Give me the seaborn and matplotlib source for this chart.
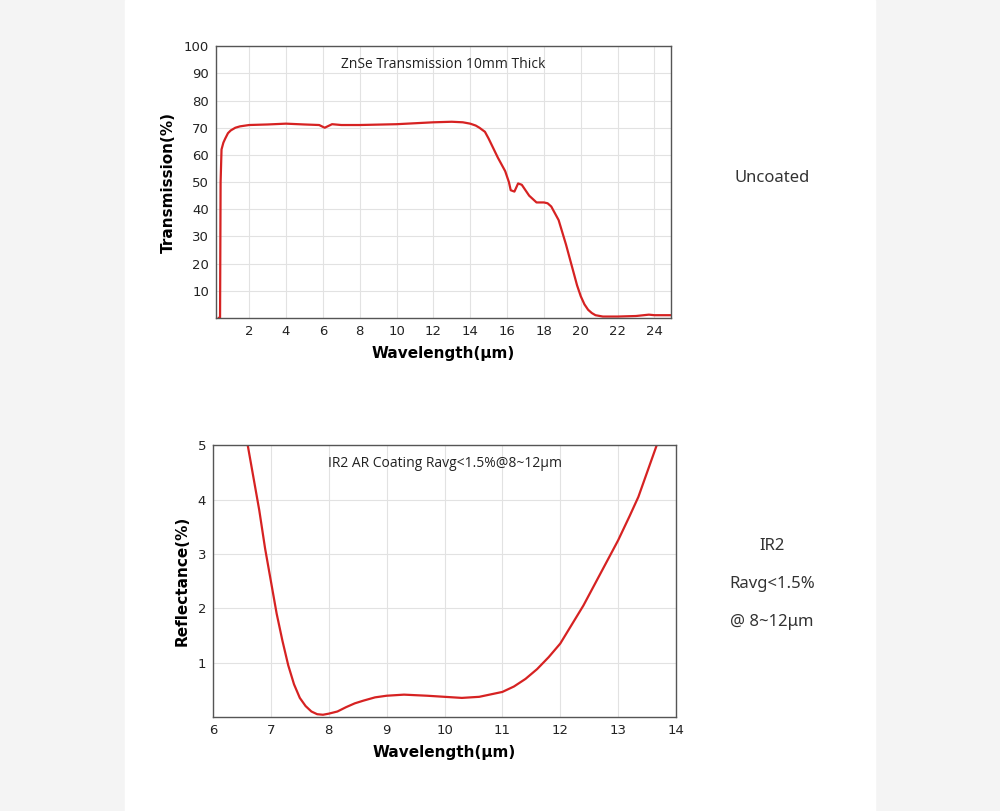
import matplotlib
matplotlib.use("Agg")
import matplotlib.pyplot as plt
import seaborn as sns
import pandas as pd

trans_wl = [0.35, 0.42, 0.45, 0.5, 0.6, 0.7, 0.85, 1.0, 1.25, 1.5, 2, 3, 4, 5, 5.8, 6.1, 6.5, 7, 8, 10, 12, 13,
            13.6, 14, 14.3, 14.5, 14.8, 15, 15.5, 15.9, 16.1, 16.2, 16.4, 16.6, 16.8, 17.0, 17.2, 17.6, 18, 18.2,
            18.4, 18.8, 19.2, 19.6, 19.8, 20, 20.2, 20.4, 20.6, 20.8, 21.2, 22, 23, 23.7, 24, 25]
trans_val = [0, 0, 50, 62, 64.5, 66, 68, 69, 70, 70.5, 71, 71.2, 71.5, 71.2, 71, 70, 71.3, 71, 71, 71.3, 72, 72.2,
             72, 71.5, 70.8, 70, 68.5, 66, 59, 54, 50, 47, 46.5, 49.5, 49, 47, 45, 42.5, 42.5, 42.2,
             41, 36, 27, 17, 12, 8, 5, 3, 1.8, 1, 0.5, 0.5, 0.7, 1.2, 1, 1]
refl_wl = [6.6, 6.7, 6.8, 6.9, 7.0, 7.1, 7.2, 7.3, 7.4, 7.5, 7.6, 7.7, 7.8, 7.9, 8.0, 8.15, 8.3, 8.45, 8.6, 8.8,
           9.0, 9.3, 9.7, 10.0, 10.3, 10.6, 11.0, 11.2, 11.4, 11.6, 11.8, 12.0, 12.2, 12.4, 12.6, 12.8, 13.0,
           13.2, 13.35, 13.5, 13.7]
refl_val = [5.0, 4.4, 3.8, 3.1, 2.5, 1.9, 1.4, 0.95, 0.6, 0.35, 0.2, 0.1, 0.05, 0.04, 0.06, 0.1, 0.18, 0.25, 0.3,
            0.36, 0.39, 0.41, 0.39, 0.37, 0.35, 0.37, 0.46, 0.56, 0.7, 0.88, 1.1, 1.35, 1.7, 2.05, 2.45, 2.85,
            3.25, 3.7, 4.05, 4.5, 5.1]

RED = "#d62222"
fig = plt.figure(figsize=(10, 8.11), dpi=100)
fig.patch.set_facecolor("#f4f4f4")
fig.add_artist(plt.Rectangle((0.125, 0), 0.75, 1, transform=fig.transFigure, color="white", zorder=0))

ax1 = fig.add_axes([0.216, 0.608, 0.455, 0.335])
ax2 = fig.add_axes([0.213, 0.116, 0.463, 0.335])

sns.lineplot(x=trans_wl, y=trans_val, ax=ax1, color=RED, lw=1.6)
sns.lineplot(x=refl_wl, y=refl_val, ax=ax2, color=RED, lw=1.6)

ax1.set_xlim(0.2, 24.9); ax1.set_ylim(0, 100)
ax1.set_xticks(range(2, 25, 2)); ax1.set_yticks(range(10, 101, 10))
ax2.set_xlim(6, 14); ax2.set_ylim(0, 5)
ax2.set_xticks(range(6, 15)); ax2.set_yticks([1, 2, 3, 4, 5])

for ax, yl, title in [(ax1, "Transmission(%)", "ZnSe Transmission 10mm Thick"),
                      (ax2, "Reflectance(%)", "IR2 AR Coating Ravg<1.5%@8~12μm")]:
    ax.set_facecolor("white")
    ax.grid(True, color="#e2e2e2", lw=0.8)
    ax.set_axisbelow(True)
    for s in ax.spines.values():
        s.set_color("#555555"); s.set_linewidth(1.0)
    ax.tick_params(length=0, labelsize=9.5, colors="#222222", pad=5)
    ax.set_xlabel("Wavelength(μm)", fontsize=11, fontweight="bold", labelpad=6)
    ax.set_ylabel(yl, fontsize=11, fontweight="bold", labelpad=6)
    ax.text(0.5, 0.96, title, transform=ax.transAxes, ha="center", va="top", fontsize=10,
            family="Open Sans", color="#222222")

kw = dict(ha="center", va="center", fontsize=12, family="Noto Sans", color="#333333")
fig.text(0.772, 1 - 178 / 811, "Uncoated", **kw)
fig.text(0.772, 1 - 546 / 811, "IR2", **kw)
fig.text(0.772, 1 - 584 / 811, "Ravg<1.5%", **kw)
fig.text(0.772, 1 - 622 / 811, "@ 8~12μm", **kw)

fig.savefig("out.png", dpi=100, facecolor=fig.get_facecolor())
